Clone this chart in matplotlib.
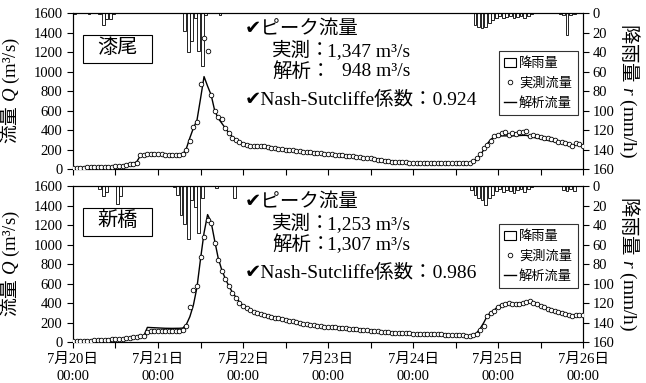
import numpy as np
import matplotlib
matplotlib.use('Agg')
import matplotlib.pyplot as plt
from matplotlib.patches import Patch, Rectangle
from matplotlib.lines import Line2D

plt.rcParams['font.family'] = ['Liberation Serif', 'Noto Sans CJK JP', 'DejaVu Sans']
# math mode: CJK in \mathrm, Latin italic symbols in Times-like serif
plt.rcParams['mathtext.fontset'] = 'custom'
plt.rcParams['mathtext.rm'] = 'Noto Sans CJK JP'
plt.rcParams['mathtext.it'] = 'Liberation Serif:italic'

# hourly time axis, 7/20 00:00 -> 7/26 00:00
hours = np.arange(145)
day_labels = ['7月20日\n00:00', '7月21日\n00:00', '7月22日\n00:00', '7月23日\n00:00',
              '7月24日\n00:00', '7月25日\n00:00', '7月26日\n00:00']

# 漆尾 (top panel)
obs_urushio = ([15, 15, 15, 15, 16, 16, 16, 17, 17, 18, 20, 22, 26, 30, 35, 42, 50, 55, 62, 140, 148, 150, 150, 150]
               + [150, 150, 148, 148, 147, 146, 145, 150, 191, 284, 431, 479, 875, 1347, 1207, 762, 590, 533, 513, 420, 370, 318, 300, 273]
               + [255, 245, 240, 236, 234, 238, 232, 226, 220, 215, 210, 205, 200, 196, 192, 188, 181, 178, 175, 172, 168, 164, 160, 157]
               + [155, 152, 148, 145, 142, 138, 135, 132, 128, 124, 118, 112, 108, 103, 97, 90, 84, 79, 75, 72, 70, 68, 67, 66]
               + [65, 65, 64, 64, 63, 63, 63, 62, 62, 62, 62, 62, 62, 62, 62, 62, 62, 79, 113, 150, 215, 250, 284, 342]
               + [352, 370, 376, 352, 370, 362, 376, 376, 386, 335, 345, 342, 325, 320, 318, 305, 300, 280, 274, 262, 255, 240, 267, 260]
               + [232])
sim_urushio = ([15, 15, 15, 15, 16, 16, 16, 17, 17, 18, 20, 23, 27, 31, 36, 43, 50, 56, 75, 135, 142, 144, 145, 145]
               + [145, 145, 145, 145, 145, 145, 146, 150, 210, 320, 420, 500, 720, 948, 850, 760, 600, 520, 470, 420, 370, 330, 300, 280]
               + [262, 250, 242, 236, 232, 228, 224, 220, 216, 212, 208, 204, 200, 196, 192, 188, 184, 180, 176, 172, 168, 164, 160, 157]
               + [154, 150, 147, 143, 140, 136, 133, 129, 125, 120, 115, 110, 105, 100, 95, 90, 85, 80, 76, 73, 71, 69, 67, 66]
               + [65, 65, 64, 64, 63, 63, 63, 62, 62, 62, 62, 62, 62, 62, 62, 62, 64, 72, 95, 140, 200, 260, 305, 330]
               + [338, 340, 340, 340, 340, 342, 344, 345, 345, 335, 325, 318, 310, 302, 295, 287, 280, 270, 262, 252, 244, 237, 250, 250]
               + [238])
rain_urushio_hr = [0, 4, 7, 8, 9, 10, 11, 31, 32, 33, 34, 35, 36, 37, 41,
                   113, 114, 115, 116, 117, 118, 119, 120, 121, 122, 123, 124, 125, 126, 127, 128, 129,
                   137, 138, 139, 140, 141]
rain_urushio_mm = [1, 1, 1, 12, 6, 6, 1, 18, 40, 29, 5, 39, 54, 2, 2,
                   12, 14, 15, 14, 10, 7, 5, 3, 5, 4, 3, 5, 4, 3, 5, 3, 1,
                   1, 2, 23, 2, 1]

# 新橋 (bottom panel)
obs_shinbashi = ([12, 12, 13, 13, 14, 15, 16, 18, 20, 22, 24, 26, 28, 32, 36, 40, 45, 50, 54, 58, 62, 105, 108, 110]
                 + [110, 110, 110, 110, 112, 112, 115, 120, 167, 358, 529, 576, 870, 1075, 1253, 1225, 1013, 842, 733, 645, 576, 501, 450, 400]
                 + [372, 345, 324, 310, 297, 285, 275, 265, 256, 249, 242, 235, 229, 220, 211, 202, 194, 189, 184, 179, 174, 169, 164, 158]
                 + [153, 151, 149, 147, 145, 141, 137, 133, 130, 127, 124, 121, 118, 114, 110, 106, 102, 99, 96, 94, 92, 90, 89, 88]
                 + [87, 86, 85, 84, 82, 81, 80, 79, 78, 77, 76, 74, 72, 70, 68, 66, 66, 70, 85, 120, 160, 263, 300, 314]
                 + [360, 382, 395, 400, 395, 392, 392, 400, 410, 416, 405, 390, 372, 355, 340, 330, 315, 305, 297, 285, 272, 270, 275, 278]
                 + [280])
sim_shinbashi = ([12, 12, 13, 13, 14, 15, 16, 18, 20, 22, 24, 26, 28, 32, 36, 40, 45, 50, 54, 58, 62, 150, 148, 145]
                 + [143, 142, 141, 140, 140, 140, 141, 143, 180, 260, 380, 560, 850, 1120, 1307, 1230, 1040, 860, 740, 650, 575, 510, 460, 410]
                 + [375, 348, 326, 310, 297, 285, 275, 265, 256, 249, 242, 235, 229, 220, 211, 202, 194, 189, 184, 179, 174, 169, 164, 158]
                 + [153, 151, 149, 147, 145, 141, 137, 133, 130, 127, 124, 121, 118, 114, 110, 106, 102, 99, 96, 94, 92, 90, 89, 88]
                 + [87, 86, 85, 84, 82, 81, 80, 79, 78, 77, 76, 74, 72, 70, 68, 66, 66, 72, 95, 140, 200, 270, 305, 330]
                 + [365, 385, 395, 398, 396, 394, 395, 402, 410, 414, 405, 390, 372, 355, 340, 328, 315, 305, 296, 285, 275, 272, 275, 278]
                 + [280])
rain_shinbashi_hr = [7, 8, 9, 12, 13, 28, 29, 30, 31, 32, 33, 34, 35, 36, 40, 45,
                     112, 113, 114, 115, 116, 117, 118, 119, 120, 121, 122, 123, 124, 125, 126, 127, 128, 129,
                     138, 139, 140, 141]
rain_shinbashi_mm = [3, 10, 6, 18, 10, 1, 9, 30, 39, 54, 14, 22, 48, 12, 2, 12,
                     4, 9, 12, 14, 19, 12, 9, 5, 3, 6, 4, 5, 7, 4, 3, 6, 3, 1,
                     4, 5, 3, 5]

stations = ['漆尾', '新橋']
peak_obs = ['1,347', '1,253']
peak_sim = ['948', '1,307']
nse = ['0.924', '0.986']


def draw_panel(ax, obs, sim, rain_hr, rain_mm, name, p_obs, p_sim, ns, show_xlabels):
    ax2 = ax.twinx()
    ax2.bar(np.array(rain_hr) + 0.5, rain_mm, width=0.8, color='white',
            edgecolor='black', linewidth=0.6)
    ax2.set_ylim(160, 0)
    ax2.set_yticks(np.arange(0, 161, 20))
    ax2.tick_params(direction='out', length=4, width=0.8, labelsize=10.5, pad=3)
    ax2.set_ylabel(r'$\mathrm{降雨量}$ $r$ (mm/h)', rotation=-90, fontsize=14, va='center')
    ax2.yaxis.set_label_coords(1.09, 0.5)

    ax.set_zorder(ax2.get_zorder() + 1)
    ax.patch.set_visible(False)
    ax.plot(hours, sim, color='black', lw=1.0, zorder=3)
    ax.plot(hours, obs, ls='none', marker='o', ms=3.3, mfc='white', mec='black',
            mew=0.6, zorder=4)
    ax.set_xlim(0, 144)
    ax.set_ylim(0, 1600)
    ax.set_yticks(np.arange(0, 1601, 200))
    ax.set_xticks(np.arange(0, 145, 24))
    ax.set_xticks(np.arange(12, 144, 24), minor=True)
    ax.tick_params(direction='out', length=4, width=0.8, labelsize=10.5)
    ax.tick_params(which='minor', direction='out', length=4, width=0.8)
    if show_xlabels:
        ax.set_xticklabels(day_labels, linespacing=1.45)
    else:
        ax.set_xticklabels([])
    ax.set_ylabel(r'$\mathrm{流量}$ $Q$ (m³/s)', fontsize=13.5)
    ax.yaxis.set_label_coords(-0.1, 0.5)

    # station name box
    ax.add_patch(Rectangle((0.0196, 0.68), 0.135, 0.18, transform=ax.transAxes,
                           facecolor='white', edgecolor='black', lw=0.8, zorder=5))
    ax.text(0.087, 0.77, name, transform=ax.transAxes, fontsize=14.5,
            ha='center', va='center', zorder=6)

    # peak flow / NSE notes
    ax.text(0.337, 0.90, '✔ピーク流量', transform=ax.transAxes, fontsize=14, va='center')
    ax.text(0.39, 0.755, '実測：', transform=ax.transAxes, fontsize=14, va='center')
    ax.text(0.661, 0.755, p_obs + ' m³/s', transform=ax.transAxes, fontsize=14,
            va='center', ha='right')
    ax.text(0.39, 0.625, '解析：', transform=ax.transAxes, fontsize=14, va='center')
    ax.text(0.661, 0.625, p_sim + ' m³/s', transform=ax.transAxes, fontsize=14,
            va='center', ha='right')
    ax.text(0.337, 0.44, '✔Nash-Sutcliffe係数：' + ns, transform=ax.transAxes,
            fontsize=14, va='center')

    handles = [Patch(facecolor='white', edgecolor='black', lw=0.8),
               Line2D([], [], ls='none', marker='o', ms=3.3, mfc='white', mec='black', mew=0.6),
               Line2D([], [], color='black', lw=1.0)]
    leg = ax.legend(handles, ['降雨量', '実測流量', '解析流量'], loc='upper right',
                    bbox_to_anchor=(0.99, 0.755), fontsize=9.5, frameon=True,
                    fancybox=False, edgecolor='black', handlelength=0.9,
                    handletextpad=0.2, labelspacing=0.55, borderpad=0.45,
                    borderaxespad=0.0)
    leg.get_frame().set_linewidth(0.8)
    leg.set_zorder(10)


fig = plt.figure(figsize=(6.46, 3.83), dpi=100)
ax_top = fig.add_axes([0.113, 0.5587, 0.7895, 0.4073])
ax_bot = fig.add_axes([0.113, 0.107, 0.7895, 0.4073])

draw_panel(ax_top, obs_urushio, sim_urushio, rain_urushio_hr, rain_urushio_mm,
           stations[0], peak_obs[0], peak_sim[0], nse[0], False)
draw_panel(ax_bot, obs_shinbashi, sim_shinbashi, rain_shinbashi_hr, rain_shinbashi_mm,
           stations[1], peak_obs[1], peak_sim[1], nse[1], True)

fig.savefig('out.png', dpi=100)
